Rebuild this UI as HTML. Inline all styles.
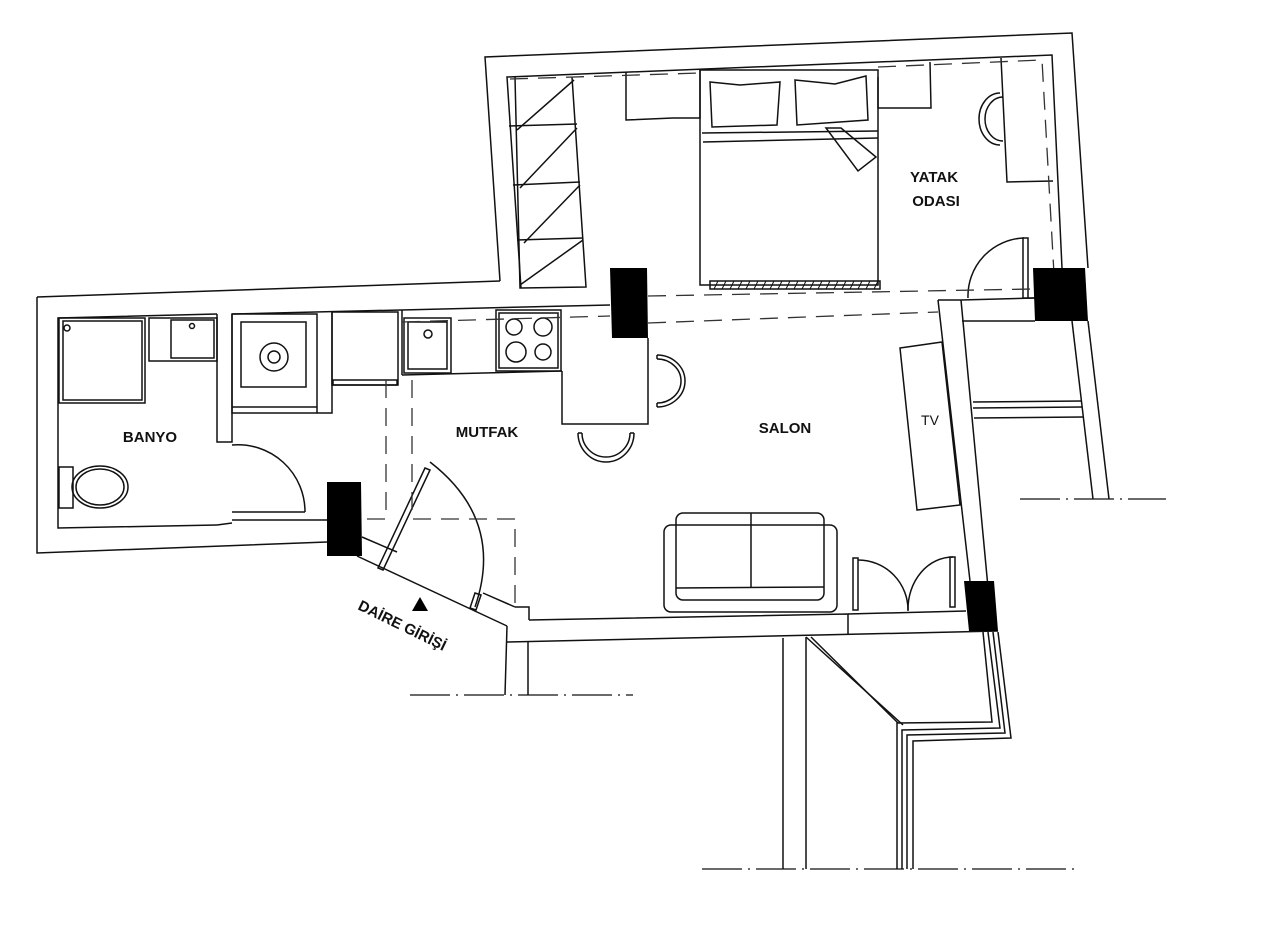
<!DOCTYPE html>
<html><head><meta charset="utf-8"><style>
html,body{margin:0;padding:0;background:#fff;width:1280px;height:940px;overflow:hidden}
svg text{font-family:"Liberation Sans",sans-serif;font-weight:bold;fill:#111}
</style></head><body>
<svg width="1280" height="940" viewBox="0 0 1280 940" xmlns="http://www.w3.org/2000/svg">
<g fill="none" stroke="#111" stroke-width="1.5">
<polyline points="500,281 485,57 1072,33 1088,268"/>
<polyline points="521,288 507,77 1052,55 1062,268"/>
<line x1="37" y1="297" x2="500" y2="281"/>
<polyline points="37,297 37,553 327,542"/>
<polyline points="217,314 58,318 58,528 217,525"/>
<polyline points="217,314 217,442 232,442 232,314"/>
<line x1="217" y1="525" x2="232" y2="523"/>
<line x1="232" y1="520" x2="327" y2="520"/>
<line x1="232" y1="314" x2="610" y2="305"/>
<rect x="59" y="318" width="86" height="85"/>
<rect x="63" y="321" width="79" height="79"/>
<circle cx="67" cy="328" r="3"/>
<rect x="149" y="318" width="68" height="43"/>
<rect x="171" y="320" width="43" height="38"/>
<circle cx="192" cy="326" r="2.5"/>
<rect x="59" y="467" width="14" height="41"/>
<ellipse cx="100" cy="487" rx="28" ry="21"/>
<ellipse cx="100" cy="487" rx="24" ry="18"/>
<path d="M232,445 A67,67 0 0 1 305,512"/>
<line x1="232" y1="512" x2="305" y2="512"/>
<rect x="232" y="314" width="85" height="99"/>
<rect x="241" y="322" width="65" height="65"/>
<circle cx="274" cy="357" r="14"/>
<circle cx="274" cy="357" r="6"/>
<line x1="232" y1="407" x2="317" y2="407"/>
<polyline points="317,413 332,413 332,312"/>
<rect x="332" y="312" width="66" height="73"/>
<rect x="333" y="380" width="64" height="5"/>
<line x1="402" y1="375" x2="562" y2="371"/>
<line x1="402" y1="310" x2="402" y2="375"/>
<rect x="404" y="318" width="47" height="55"/>
<rect x="408" y="322" width="39" height="47"/>
<circle cx="428" cy="334" r="4"/>
<rect x="496" y="310" width="65" height="61"/>
<rect x="499" y="313" width="59" height="55"/>
<circle cx="514" cy="327" r="8"/>
<circle cx="543" cy="327" r="9"/>
<circle cx="516" cy="352" r="10"/>
<circle cx="543" cy="352" r="8"/>
<polyline points="562,371 562,424 648,424 648,338"/>
<path d="M657,355 A28,26 0 0 1 657,407"/>
<path d="M657,359 A24,22 0 0 1 657,403"/>
<line x1="657" y1="355" x2="657" y2="359"/><line x1="657" y1="407" x2="657" y2="403"/>
<path d="M578,433 A28,29 0 0 0 634,433"/>
<path d="M582,433 A24,24 0 0 0 630,433"/>
<line x1="578" y1="433" x2="582" y2="433"/><line x1="630" y1="433" x2="634" y2="433"/>
<line x1="362" y1="537" x2="397" y2="552"/>
<line x1="357" y1="556" x2="507" y2="626"/>
<line x1="483" y1="593" x2="515" y2="607"/>
<line x1="507" y1="626" x2="505" y2="695"/>
<line x1="528" y1="642" x2="528" y2="695"/>
<polyline points="515,607 529,607 529,620"/>
<polygon points="378,568 425,468 430,470 383,570"/>
<path d="M430,462 Q505,520 475,607"/>
<polygon points="475,593 481,595 476,610 470,608"/>
<polyline points="529,620 848,614 848,635"/>
<line x1="848" y1="614" x2="966" y2="611"/>
<line x1="507" y1="642" x2="998" y2="631"/>
<line x1="938" y1="300" x2="970" y2="581"/>
<line x1="938" y1="300" x2="961" y2="300"/>
<line x1="961" y1="300" x2="992" y2="630"/>
<line x1="961" y1="300" x2="1035" y2="298"/>
<line x1="962" y1="321" x2="1035" y2="321"/>
<line x1="1072" y1="321" x2="1093" y2="499"/>
<line x1="1088" y1="321" x2="1109" y2="499"/>
<line x1="973" y1="402" x2="1082" y2="401"/>
<line x1="973" y1="408" x2="1082" y2="407"/>
<line x1="974" y1="418" x2="1083" y2="417"/>
<polygon points="900,348 942,342 960,505 917,510"/>
<rect x="664" y="525" width="173" height="87" rx="7"/>
<rect x="676" y="513" width="148" height="87" rx="7"/>
<line x1="676" y1="588" x2="824" y2="587"/>
<line x1="751" y1="513" x2="751" y2="588"/>
<rect x="853" y="558" width="5" height="52"/>
<path d="M858,560 A50,50 0 0 1 908,611"/>
<rect x="950" y="557" width="5" height="50"/>
<path d="M953,557 A45,52 0 0 0 908,610"/>
<line x1="783" y1="638" x2="783" y2="869"/>
<line x1="806" y1="637" x2="806" y2="869"/>
<line x1="806" y1="637" x2="903" y2="725"/>
<line x1="811" y1="637" x2="898" y2="723"/>
<polyline points="897,869 897,723 992,722 983,632"/>
<polyline points="902,869 902,730 1000,728 988,632"/>
<polyline points="907,869 907,735 1005,733 993,632"/>
<polyline points="913,869 913,741 1011,738 998,632"/>
<polyline points="515,77 520,288 521,288 586,287 572,77"/>
<line x1="509" y1="126" x2="577" y2="124"/>
<line x1="513" y1="185" x2="580" y2="182"/>
<line x1="517" y1="240" x2="583" y2="238"/>
<line x1="517" y1="130" x2="574" y2="80"/>
<line x1="520" y1="188" x2="577" y2="128"/>
<line x1="524" y1="243" x2="580" y2="185"/>
<line x1="520" y1="285" x2="583" y2="240"/>
<polyline points="626,72 626,120 673,118 700,118 700,70"/>
<rect x="700" y="70" width="178" height="215"/>
<path d="M710,82 L740,85 L780,82 L777,125 L712,127 Z"/>
<path d="M795,80 L835,84 L866,76 L868,120 L797,125 Z"/>
<line x1="702" y1="133" x2="878" y2="131"/>
<line x1="703" y1="142" x2="878" y2="138"/>
<path d="M826,128 L841,128 L876,157 L858,171 Z"/>
<polyline points="878,77 878,108 931,108 930,62"/>
<polyline points="1001,58 1007,182 1053,181"/>
<path d="M1000,93 A21,26 0 0 0 1000,145"/>
<path d="M1003,97 A18,22 0 0 0 1003,141"/>
<rect x="710" y="281" width="170" height="8"/>
<path d="M1024,238 A58,58 0 0 0 968,298"/>
<rect x="1023" y="238" width="5" height="60"/>
<line x1="1028" y1="298" x2="1035" y2="298"/>
</g>
<g stroke="#111" stroke-width="1">
<path d="M714,289l4,-8M722,289l4,-8M730,289l4,-8M738,289l4,-8M746,289l4,-8M754,289l4,-8M762,289l4,-8M770,289l4,-8M778,289l4,-8M786,289l4,-8M794,289l4,-8M802,289l4,-8M810,289l4,-8M818,289l4,-8M826,289l4,-8M834,289l4,-8M842,289l4,-8M850,289l4,-8M858,289l4,-8M866,289l4,-8M874,289l4,-8"/>
</g>
<g fill="none" stroke="#333" stroke-width="1.3" stroke-dasharray="18,10">
<polyline points="386,380 386,519 362,519"/>
<polyline points="412,380 412,519 515,519 515,606"/>
<line x1="648" y1="323" x2="938" y2="312"/>
<line x1="402" y1="322" x2="610" y2="316"/>
<line x1="648" y1="296" x2="1033" y2="289"/>
<line x1="510" y1="79" x2="700" y2="73"/>
<polyline points="878,67 1042,60 1055,292"/>
</g>
<g stroke="#111" stroke-width="1.3" stroke-dasharray="40,6,2,6">
<line x1="410" y1="695" x2="633" y2="695"/>
<line x1="702" y1="869" x2="1077" y2="869"/>
<line x1="1020" y1="499" x2="1166" y2="499"/>
</g>
<g fill="#000">
<polygon points="327,482 361,482 362,556 327,556"/>
<polygon points="610,268 647,268 648,338 612,338"/>
<polygon points="1033,268 1085,268 1088,321 1035,321"/>
<polygon points="964,581 994,581 998,631 969,631"/>
<polygon points="412,611 420,597 428,611"/>
</g>
<text x="150" y="442" font-size="15" text-anchor="middle">BANYO</text>
<text x="487" y="437" font-size="15" text-anchor="middle">MUTFAK</text>
<text x="785" y="433" font-size="15" text-anchor="middle">SALON</text>
<text x="934" y="182" font-size="15" text-anchor="middle">YATAK</text>
<text x="936" y="206" font-size="15" text-anchor="middle">ODASI</text>
<text x="930" y="425" font-size="14" text-anchor="middle" style="font-weight:normal">TV</text>
<text x="0" y="0" font-size="15" transform="translate(357,609) rotate(26)">DAİRE GİRİŞİ</text>
</svg>
</body></html>
